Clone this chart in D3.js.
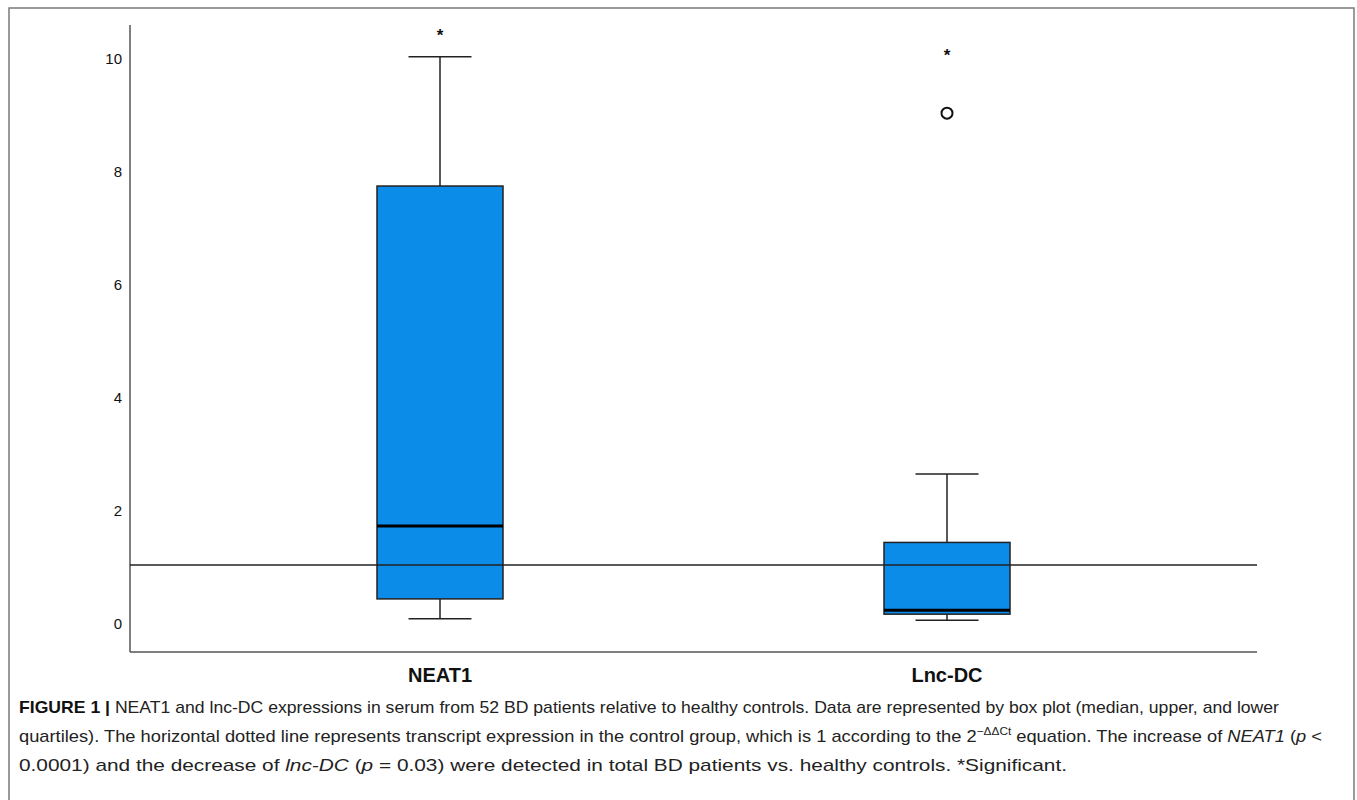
<!DOCTYPE html>
<html>
<head>
<meta charset="utf-8">
<script src="https://cdn.jsdelivr.net/npm/d3@7"></script>
<style>
  body { margin: 0; background: #fff; }
  svg { display: block; }
</style>
</head>
<body>
<div id="chart"></div>
<script>
// values
const categories = ["NEAT1", "Lnc-DC"];
const q1Values = [0.40, 0.13];
const medianValues = [1.69, 0.20];
const q3Values = [7.71, 1.40];
const whiskerLow = [0.05, 0.02];
const whiskerHigh = [10.0, 2.61];
const outlierValues = [[], [9.0]];
const extremeValues = [[10.42], [10.07]];
const yTicks = [0, 2, 4, 6, 8, 10];
const controlLevel = 1;

const captionLines = [
  "NEAT1 and lnc-DC expressions in serum from 52 BD patients relative to healthy controls. Data are represented by box plot (median, upper, and lower",
  "quartiles). The horizontal dotted line represents transcript expression in the control group, which is 1 according to the 2",
  "0.0001) and the decrease of "
];

const width = 1357;
const height = 800;

const svg = d3.select("#chart")
  .append("svg")
  .attr("width", width)
  .attr("height", height)
  .style("font-family", "Arial, 'Liberation Sans', sans-serif");

// outer frame of the figure panel
svg.append("rect")
  .attr("x", 9)
  .attr("y", 8)
  .attr("width", 1345)
  .attr("height", 820)
  .attr("fill", "none")
  .attr("stroke", "#7a7a7a")
  .attr("stroke-width", 1.5);

const plotLeft = 130, plotRight = 1257, plotTop = 25, plotBottom = 652;

const y = d3.scaleLinear()
  .domain([0, 10])
  .range([621.5, 56.7]);

const x = d3.scalePoint()
  .domain(categories)
  .range([440, 947]);

const boxWidth = 126;
const capWidth = 63;

// axes (no tick marks, just the lines and labels)
svg.append("line")
  .attr("x1", plotLeft).attr("x2", plotLeft)
  .attr("y1", plotTop).attr("y2", plotBottom)
  .attr("stroke", "#555").attr("stroke-width", 1.5);
svg.append("line")
  .attr("x1", plotLeft).attr("x2", plotRight)
  .attr("y1", plotBottom).attr("y2", plotBottom)
  .attr("stroke", "#555").attr("stroke-width", 1.5);

svg.append("g")
  .selectAll("text")
  .data(yTicks)
  .enter()
  .append("text")
  .attr("x", 122)
  .attr("y", d => y(d) + 2.5)
  .attr("dy", "0.35em")
  .attr("text-anchor", "end")
  .style("font-size", "15px")
  .style("fill", "#111")
  .text(d => d);

svg.append("g")
  .selectAll("text")
  .data(categories)
  .enter()
  .append("text")
  .attr("x", d => x(d))
  .attr("y", 682)
  .attr("text-anchor", "middle")
  .style("font-size", "20px")
  .style("font-weight", "bold")
  .style("fill", "#111")
  .text(d => d);

// box plots
const boxes = svg.append("g")
  .selectAll("g")
  .data(categories)
  .enter()
  .append("g");

boxes.append("line")
  .attr("x1", d => x(d)).attr("x2", d => x(d))
  .attr("y1", (d, i) => y(whiskerHigh[i]))
  .attr("y2", (d, i) => y(q3Values[i]))
  .attr("stroke", "#222").attr("stroke-width", 1.5);
boxes.append("line")
  .attr("x1", d => x(d)).attr("x2", d => x(d))
  .attr("y1", (d, i) => y(q1Values[i]))
  .attr("y2", (d, i) => y(whiskerLow[i]))
  .attr("stroke", "#222").attr("stroke-width", 1.5);
boxes.append("line")
  .attr("x1", d => x(d) - capWidth / 2).attr("x2", d => x(d) + capWidth / 2)
  .attr("y1", (d, i) => y(whiskerHigh[i]))
  .attr("y2", (d, i) => y(whiskerHigh[i]))
  .attr("stroke", "#222").attr("stroke-width", 1.5);
boxes.append("line")
  .attr("x1", d => x(d) - capWidth / 2).attr("x2", d => x(d) + capWidth / 2)
  .attr("y1", (d, i) => y(whiskerLow[i]))
  .attr("y2", (d, i) => y(whiskerLow[i]))
  .attr("stroke", "#222").attr("stroke-width", 1.5);

boxes.append("rect")
  .attr("x", d => x(d) - boxWidth / 2)
  .attr("y", (d, i) => y(q3Values[i]))
  .attr("width", boxWidth)
  .attr("height", (d, i) => y(q1Values[i]) - y(q3Values[i]))
  .attr("fill", "#0b8ce9")
  .attr("stroke", "#222")
  .attr("stroke-width", 1.5);

boxes.append("line")
  .attr("x1", d => x(d) - boxWidth / 2).attr("x2", d => x(d) + boxWidth / 2)
  .attr("y1", (d, i) => y(medianValues[i]))
  .attr("y2", (d, i) => y(medianValues[i]))
  .attr("stroke", "#000").attr("stroke-width", 3);

// outliers (circles) and extremes (stars)
boxes.selectAll("circle")
  .data((d, i) => outlierValues[i].map(v => ({ cat: d, v })))
  .enter()
  .append("circle")
  .attr("cx", d => x(d.cat))
  .attr("cy", d => y(d.v))
  .attr("r", 5.5)
  .attr("fill", "none")
  .attr("stroke", "#111")
  .attr("stroke-width", 2);

boxes.selectAll("text.extreme")
  .data((d, i) => extremeValues[i].map(v => ({ cat: d, v })))
  .enter()
  .append("text")
  .attr("class", "extreme")
  .attr("x", d => x(d.cat))
  .attr("y", d => y(d.v) + 8)
  .attr("text-anchor", "middle")
  .style("font-size", "17px")
  .style("font-weight", "bold")
  .style("fill", "#111")
  .text("*");

// control group reference line at 1
svg.append("line")
  .attr("x1", plotLeft).attr("x2", plotRight)
  .attr("y1", y(controlLevel)).attr("y2", y(controlLevel))
  .attr("stroke", "#222").attr("stroke-width", 1.5);

// caption (condensed look: larger glyphs squeezed to the line width)
const cap = svg.append("g")
  .style("font-family", "'Liberation Sans Narrow', 'Liberation Sans', Arial, sans-serif")
  .style("font-size", "17px")
  .style("fill", "#222");

const l1 = cap.append("text")
  .attr("x", 19).attr("y", 713)
  .attr("textLength", 1260)
  .attr("lengthAdjust", "spacingAndGlyphs");
l1.append("tspan").style("font-weight", "bold").style("fill", "#111").text("FIGURE 1 | ");
l1.append("tspan").text(captionLines[0]);

const l2 = cap.append("text")
  .attr("x", 19).attr("y", 742)
  .attr("textLength", 1303)
  .attr("lengthAdjust", "spacingAndGlyphs");
l2.append("tspan").text(captionLines[1]);
l2.append("tspan").attr("dy", -7).style("font-size", "11px").text("\u2212\u0394\u0394Ct");
l2.append("tspan").attr("dy", 7).text(" equation. The increase of ");
l2.append("tspan").style("font-style", "italic").text("NEAT1");
l2.append("tspan").text(" (");
l2.append("tspan").style("font-style", "italic").text("p");
l2.append("tspan").text(" <");

const l3 = cap.append("text")
  .attr("x", 19).attr("y", 771)
  .attr("textLength", 1048)
  .attr("lengthAdjust", "spacingAndGlyphs");
l3.append("tspan").text(captionLines[2]);
l3.append("tspan").style("font-style", "italic").text("lnc-DC");
l3.append("tspan").text(" (");
l3.append("tspan").style("font-style", "italic").text("p");
l3.append("tspan").text(" = 0.03) were detected in total BD patients vs. healthy controls. *Significant.");
</script>
</body>
</html>
